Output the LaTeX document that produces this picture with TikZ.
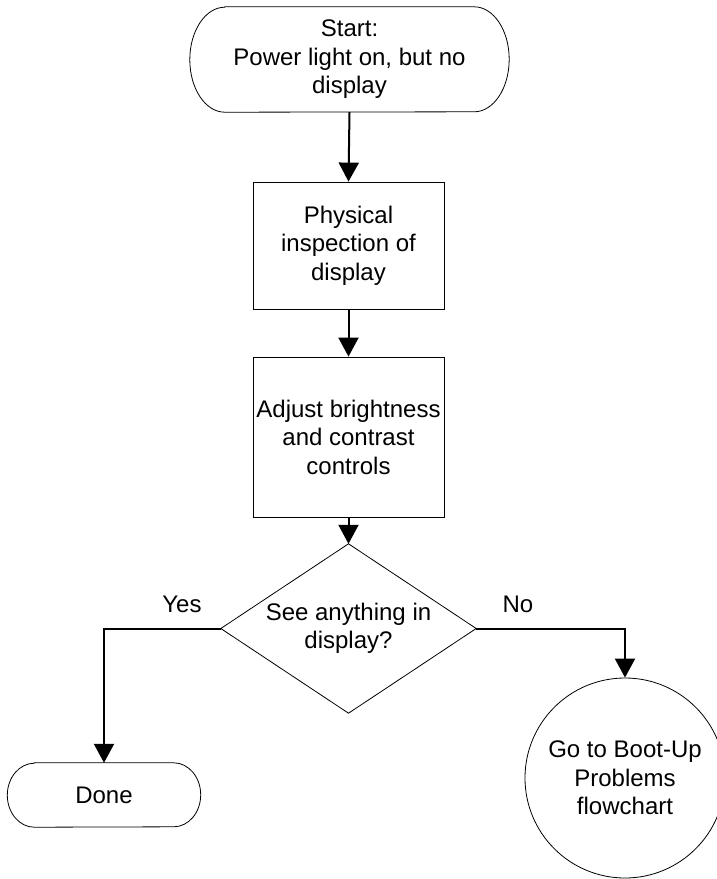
\documentclass[tikz,border=0pt]{standalone}
\usepackage{fontspec}
\setmainfont{Liberation Sans}
\usetikzlibrary{arrows.meta}
\begin{document}
\begin{tikzpicture}[x=1pt,y=-1pt,
  every node/.style={font=\fontsize{24}{28.5}\selectfont, align=center, inner sep=0pt},
  shapeline/.style={draw=black, line width=0.8pt},
  procbox/.style={shapeline, rectangle, minimum width=191pt},
  conn/.style={draw=black, line width=2pt, -{Triangle[width=20pt,length=19pt]}},
  lbl/.style={font=\fontsize{24}{28.5}\selectfont}]
\useasboundingbox (0,0) rectangle (717,879);

% Start terminal
\node[minimum width=319pt, minimum height=105pt] (start) at (349.5,59.5)
  {Start:\\Power light on, but no\\display};
\draw[shapeline] ([xshift=35pt]start.north west) -- ([xshift=-35pt]start.north east)
  arc[start angle=90, end angle=-90, x radius=35pt, y radius=52.5pt]
  -- ([xshift=35pt]start.south west)
  arc[start angle=270, end angle=90, x radius=35pt, y radius=52.5pt] -- cycle;

% Process boxes
\node[procbox, minimum height=127pt] (insp) at (348.5,245.5)
  {Physical\\inspection of\\display};
\node[procbox, minimum height=160pt] (adj) at (348.5,437)
  {Adjust brightness\\and contrast\\controls};

% Decision
\node[minimum width=255pt, minimum height=169pt] (dec) at (348.5,628.5)
  {See anything in\\display?};
\draw[shapeline] (dec.north) -- (dec.east) -- (dec.south) -- (dec.west) -- cycle;

% Done terminal
\node[minimum width=193pt, minimum height=64pt] (done) at (104,795) {Done};
\draw[shapeline] ([xshift=27pt]done.north west) -- ([xshift=-27pt]done.north east)
  arc[start angle=90, end angle=-90, x radius=27pt, y radius=32pt]
  -- ([xshift=27pt]done.south west)
  arc[start angle=270, end angle=90, x radius=27pt, y radius=32pt] -- cycle;

% Off-page connector circle
\node[shapeline, circle, minimum size=200pt] (boot) at (625,778)
  {Go to Boot-Up\\Problems\\flowchart};

% Labels
\node[lbl] (yes) at (182,604) {Yes};
\node[lbl] (no) at (518,604) {No};

% Connectors
\draw[conn] (start.south) -- (insp.north);
\draw[conn] (insp.south) -- (adj.north);
\draw[conn] (adj.south) -- (dec.north);
\draw[conn] (dec.west) -| (done.north);
\draw[conn] (dec.east) -| (boot.north);
\end{tikzpicture}
\end{document}
